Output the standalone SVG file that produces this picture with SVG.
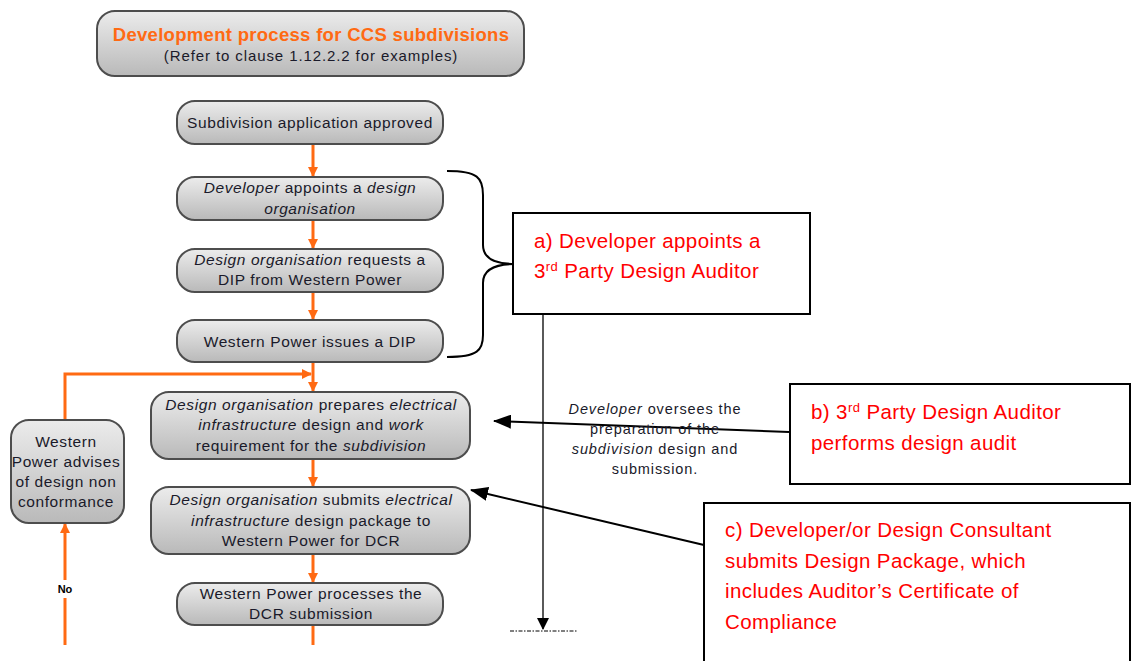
<svg xmlns="http://www.w3.org/2000/svg" width="1133" height="661" viewBox="0 0 1133 661">
<defs>
<linearGradient id="g" x1="0" y1="0" x2="0" y2="1">
<stop offset="0" stop-color="#ececec"/>
<stop offset="1" stop-color="#b9b9b9"/>
</linearGradient>
<marker id="oa" markerWidth="10" markerHeight="10" refX="9" refY="5" orient="auto" markerUnits="userSpaceOnUse">
<path d="M0,0 L10,5 L0,10 z" fill="#ff6a13"/>
</marker>
<marker id="ba" markerWidth="18" markerHeight="14" refX="17" refY="7" orient="auto" markerUnits="userSpaceOnUse">
<path d="M0,0 L18,7 L0,14 z" fill="#000"/>
</marker>
<marker id="bs" markerWidth="12" markerHeight="18" refX="11" refY="6" orient="auto" markerUnits="userSpaceOnUse">
<path d="M0,0 L12,6 L0,12 z" fill="#000"/>
</marker>
</defs>
<style>
.box{fill:url(#g);stroke:#4d4d4d;stroke-width:2}
.t{font-family:"Liberation Sans",Arial,sans-serif;font-size:15.5px;letter-spacing:0.6px;fill:#1a1a2a;text-anchor:middle}
.n{font-size:14.5px;letter-spacing:0.9px}
.i{font-style:italic}
.o{stroke:#ff6a13;stroke-width:3;fill:none}
.red{font-family:"Liberation Sans",Arial,sans-serif;font-size:20.5px;letter-spacing:0.4px;fill:#ff0000}
.rb{fill:#fff;stroke:#000;stroke-width:2}
.k{stroke:#000;stroke-width:2;fill:none}
</style>

<g id="title">
<rect x="97" y="11" width="427" height="65" rx="18" class="box"/>
<text x="311" y="41" class="t" style="font-size:18.5px;letter-spacing:0.3px;font-weight:bold;fill:#ff6a13">Development process for CCS subdivisions</text>
<text x="311" y="61" class="t" style="font-size:15px;letter-spacing:0.9px">(Refer to clause 1.12.2.2 for examples)</text>
</g>

<g id="connectors">
<line x1="313" y1="145" x2="313" y2="176" class="o" marker-end="url(#oa)"/>
<line x1="313" y1="221" x2="313" y2="248" class="o" marker-end="url(#oa)"/>
<line x1="313" y1="293" x2="313" y2="319" class="o" marker-end="url(#oa)"/>
<line x1="313" y1="363" x2="313" y2="391" class="o" marker-end="url(#oa)"/>
<polyline points="65,420 65,374 311,374" class="o" marker-end="url(#oa)"/>
<line x1="313" y1="460" x2="313" y2="486" class="o" marker-end="url(#oa)"/>
<line x1="313" y1="555" x2="313" y2="582" class="o" marker-end="url(#oa)"/>
<line x1="313" y1="626" x2="313" y2="645" class="o"/>
<line x1="65" y1="645" x2="65" y2="598" class="o"/>
<line x1="65" y1="580" x2="65" y2="524" class="o" marker-end="url(#oa)"/>
<path d="M447,171 C478,171 483,178 483,195 L483,245 C483,258 495,264 515,264 C495,264 483,270 483,283 L483,335 C483,350 478,357 447,357" class="k"/>
<line x1="543" y1="314" x2="543" y2="629" stroke="#000" stroke-width="1.3" marker-end="url(#bs)"/>
<line x1="510" y1="631" x2="577" y2="631" stroke="#000" stroke-width="1" stroke-dasharray="4,1.5,1.5,1.5"/>
<line x1="789" y1="432" x2="494" y2="421" class="k" marker-end="url(#ba)"/>
<line x1="704" y1="545" x2="471" y2="490" class="k" marker-end="url(#ba)"/>
</g>

<g id="n1">
<rect x="177" y="101" width="266" height="43" rx="18" class="box"/>
<text x="310" y="128" class="t">Subdivision application approved</text>
</g>
<g id="n2">
<rect x="177" y="177" width="266" height="43" rx="18" class="box"/>
<text x="310" y="193" class="t"><tspan class="i">Developer</tspan> appoints a <tspan class="i">design</tspan></text>
<text x="310" y="214" class="t i">organisation</text>
</g>
<g id="n3">
<rect x="177" y="249" width="266" height="43" rx="18" class="box"/>
<text x="310" y="265" class="t"><tspan class="i">Design organisation</tspan> requests a</text>
<text x="310" y="285" class="t">DIP from Western Power</text>
</g>
<g id="n4">
<rect x="177" y="320" width="266" height="42" rx="18" class="box"/>
<text x="310" y="347" class="t">Western Power issues a DIP</text>
</g>
<g id="n5">
<rect x="151" y="392" width="319" height="67" rx="18" class="box"/>
<text x="311" y="410" class="t"><tspan class="i">Design organisation</tspan> prepares <tspan class="i">electrical</tspan></text>
<text x="311" y="430" class="t"><tspan class="i">infrastructure</tspan> design and <tspan class="i">work</tspan></text>
<text x="311" y="451" class="t">requirement for the <tspan class="i">subdivision</tspan></text>
</g>
<g id="n6">
<rect x="151" y="487" width="319" height="67" rx="18" class="box"/>
<text x="311" y="505" class="t"><tspan class="i">Design organisation</tspan> submits <tspan class="i">electrical</tspan></text>
<text x="311" y="526" class="t"><tspan class="i">infrastructure</tspan> design package to</text>
<text x="311" y="546" class="t">Western Power for DCR</text>
</g>
<g id="n7">
<rect x="177" y="583" width="266" height="42" rx="18" class="box"/>
<text x="311" y="599" class="t">Western Power processes the</text>
<text x="311" y="619" class="t">DCR submission</text>
</g>
<g id="n8">
<rect x="11" y="420" width="113" height="103" rx="18" class="box"/>
<text x="66" y="447" class="t">Western</text>
<text x="66" y="467" class="t">Power advises</text>
<text x="66" y="487" class="t">of design non</text>
<text x="66" y="507" class="t">conformance</text>
</g>
<g id="no">
<text x="65" y="593" class="t" style="font-size:11px;letter-spacing:0;font-weight:bold;fill:#000">No</text>
</g>
<g id="note">
<text x="655" y="414" class="t n"><tspan class="i">Developer</tspan> oversees the</text>
<text x="655" y="434" class="t n">preparation of the</text>
<text x="655" y="454" class="t n"><tspan class="i">subdivision</tspan> design and</text>
<text x="655" y="474" class="t n">submission.</text>
</g>
<g id="a">
<rect x="513" y="213" width="297" height="101" class="rb"/>
<text x="534" y="248" class="red">a) Developer appoints a</text>
<text x="534" y="278" class="red">3<tspan dy="-7" font-size="13">rd</tspan><tspan dy="7"> Party Design Auditor</tspan></text>
</g>
<g id="b">
<rect x="790" y="384" width="340" height="100" class="rb"/>
<text x="811" y="419" class="red">b) 3<tspan dy="-7" font-size="13">rd</tspan><tspan dy="7"> Party Design Auditor</tspan></text>
<text x="811" y="450" class="red">performs design audit</text>
</g>
<g id="c">
<rect x="704" y="503" width="426" height="165" class="rb"/>
<text x="725" y="537" class="red">c) Developer/or Design Consultant</text>
<text x="725" y="568" class="red">submits Design Package, which</text>
<text x="725" y="598" class="red">includes Auditor’s Certificate of</text>
<text x="725" y="629" class="red">Compliance</text>
</g>
</svg>
